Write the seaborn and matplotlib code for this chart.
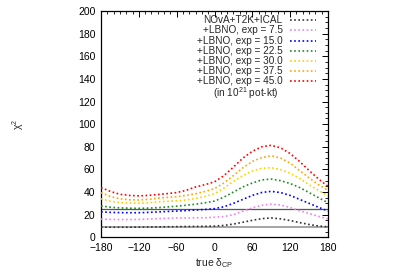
import numpy as np
import pandas as pd
import matplotlib
matplotlib.use("Agg")
import matplotlib.pyplot as plt
import seaborn as sns
from matplotlib.ticker import MultipleLocator

delta = [-180, -165, -150, -135, -120, -105, -90, -75, -60, -45, -30, -15, 0,
         15, 30, 45, 60, 75, 90, 105, 120, 135, 150, 165, 180]

chi_base = [9, 8.9, 8.9, 8.9, 9, 9.1, 9.2, 9.3, 9.4, 9.5, 9.6, 9.7, 9.9,
            10.5, 11.7, 13.3, 15, 16.5, 17.1, 16.3, 14.8, 13, 11.3, 10, 9.2]
chi_75 = [16, 15.8, 15.7, 15.7, 15.8, 16.1, 16.5, 16.8, 17.1, 17.1, 17.2, 17.3, 17.7,
          18.3, 20, 23, 26, 28.3, 29.3, 28.5, 26.3, 23.5, 21, 18.5, 16.2]
chi_150 = [22.5, 22, 21.8, 21.7, 21.7, 22, 22.4, 22.8, 23.2, 23.6, 24.1, 24.6, 25.3,
           27, 30, 33.5, 37, 39.6, 40.6, 39.5, 37, 33.5, 30, 26.5, 23.2]
chi_225 = [27.7, 26.6, 26, 25.7, 25.6, 25.8, 26.2, 26.8, 27.5, 28.3, 29.2, 30.5, 32,
           35.5, 40, 44.5, 48, 50.7, 51.5, 50, 47.5, 44, 39.5, 35, 30.5]
chi_300 = [34, 31.8, 30.6, 30.2, 30, 30.5, 31.3, 31.8, 32.2, 33, 34.3, 36, 38.5,
           43.5, 49.5, 54.5, 58.5, 61, 61.5, 59.8, 56.5, 52, 46.5, 41.5, 36.5]
chi_375 = [39.5, 36, 34, 33.2, 33, 33.5, 34.5, 35.3, 35.9, 37, 38.5, 40.5, 43,
           48, 54.5, 61.5, 67, 70.5, 72, 70, 65.5, 59, 52.5, 46.5, 41.5]
chi_450 = [44, 40.5, 38, 37, 36.6, 37, 37.8, 38.6, 39.5, 41.5, 44.5, 46.5, 49,
           54.5, 62, 70, 76, 80, 81.3, 79, 74, 67, 59, 51.5, 45]

series_labels = ["NOvA+T2K+ICAL", "+LBNO, exp = 7.5", "+LBNO, exp = 15.0",
                 "+LBNO, exp = 22.5", "+LBNO, exp = 30.0", "+LBNO, exp = 37.5",
                 "+LBNO, exp = 45.0"]
series_values = [chi_base, chi_75, chi_150, chi_225, chi_300, chi_375, chi_450]
colors = ["#333333", "#ee82ee", "#0000ff", "#228b22", "#ffd000", "#ffa500", "#ff0000"]
cl_levels = [9, 25]
cl_colors = ["#8c8c8c", "#555555"]

xticks = [-180, -120, -60, 0, 60, 120, 180]
yticks = [0, 20, 40, 60, 80, 100, 120, 140, 160, 180, 200]

rows = []
for lab, vals in zip(series_labels, series_values):
    for d, v in zip(delta, vals):
        rows.append({"delta": d, "chi2": v, "series": lab})
df = pd.DataFrame(rows)

sns.set_theme(style="white")
plt.rcParams["font.family"] = ["Liberation Sans", "DejaVu Sans"]
plt.rcParams["mathtext.fontset"] = "custom"
plt.rcParams["mathtext.rm"] = "Liberation Sans"
plt.rcParams["mathtext.it"] = "Liberation Sans"

fig = plt.figure(figsize=(4.0, 2.79), dpi=100)
ax = fig.add_axes([0.2525, 0.1495, 0.5675, 0.8111])

for lvl, c in zip(cl_levels, cl_colors):
    ax.axhline(lvl, color=c, lw=1.1 if lvl == 9 else 0.9, zorder=1)

sns.lineplot(data=df, x="delta", y="chi2", hue="series", hue_order=series_labels,
             palette=colors, ax=ax, legend=False, linewidth=1.2,
             linestyle=(0, (1, 1.5)), zorder=3)
for ln in ax.lines:
    ln.set_dash_capstyle("butt")

ax.set_xlim(-180, 180)
ax.set_ylim(0, 200)
ax.set_xticks(xticks)
ax.set_yticks(yticks)
ax.xaxis.set_minor_locator(MultipleLocator(10))
ax.yaxis.set_minor_locator(MultipleLocator(5))
ax.tick_params(which="both", direction="in", top=True, right=True,
               labelsize=7.5, colors="black", pad=4)
ax.tick_params(which="major", length=4, width=0.7)
ax.tick_params(which="minor", length=2, width=0.6)
for s in ax.spines.values():
    s.set_color("black")
    s.set_linewidth(0.9)

ax.set_xlabel("true δ$_{\\mathrm{CP}}$", fontsize=7.5)
ax.set_ylabel("χ$^2$", fontsize=7.5)
ax.xaxis.set_label_coords(0.5, -0.085)
ax.yaxis.set_label_coords(-0.33, 0.5)

# manual legend (right-aligned text, sample lines on the right)
y0 = 0.958
step = 0.0442
for i, (lab, c) in enumerate(zip(series_labels, colors)):
    yy = y0 - i * step
    ax.text(0.800, yy, lab, transform=ax.transAxes, ha="right", va="center",
            fontsize=7.2)
    ax.plot([0.833, 0.947], [yy, yy], transform=ax.transAxes, color=c,
            lw=1.2, linestyle=(0, (1, 1.5)), dash_capstyle="butt")
ax.text(0.639, y0 - 7 * step - 0.012, "(in 10$^{21}$ pot-kt)", transform=ax.transAxes,
        ha="center", va="center", fontsize=7.2)

fig.savefig("out.png", dpi=100)
